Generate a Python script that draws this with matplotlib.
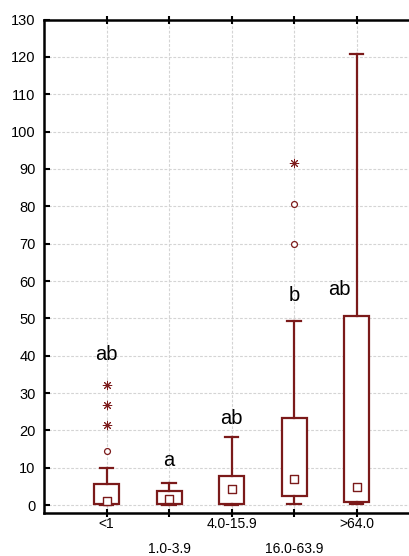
import matplotlib
matplotlib.use("Agg")
import matplotlib.pyplot as plt

plt.rcParams['font.family'] = ['Liberation Sans', 'DejaVu Sans']

categories = ['<1', '1.0-3.9', '4.0-15.9', '16.0-63.9', '>64.0']
q1 = [0.2, 0.2, 0.3, 2.4, 0.8]
q3 = [5.6, 3.8, 7.8, 23.3, 50.7]
medians = [1.0, 1.6, 4.3, 7.0, 4.8]
whisker_lo = [0.0, 0.0, 0.0, 0.3, 0.3]
whisker_hi = [9.9, 5.9, 18.3, 49.3, 120.9]
outliers = [[14.5], [], [], [70.0, 80.5], []]
extremes = [[21.4, 26.8, 32.2], [], [], [91.5], []]
letters = ['ab', 'a', 'ab', 'b', 'ab']
letter_y = [40.2, 12.0, 23.3, 56.2, 57.6]
letter_dx = [0.0, 0.0, 0.0, 0.0, -0.28]
yticks = list(range(0, 131, 10))

dark_red = '#7b1a1a'

fig = plt.figure(figsize=(4.09, 5.56), dpi=100)
ax = fig.add_axes([0.1076, 0.0773, 0.917, 0.8876])

positions = list(range(1, len(categories) + 1))
stats = []
for i in range(len(categories)):
    stats.append(dict(med=medians[i], q1=q1[i], q3=q3[i],
                      whislo=whisker_lo[i], whishi=whisker_hi[i],
                      fliers=[], label=categories[i]))

ax.bxp(stats, positions=positions, widths=0.4, capwidths=0.21,
       showfliers=False, patch_artist=True,
       boxprops=dict(edgecolor=dark_red, facecolor='white', linewidth=1.6),
       whiskerprops=dict(color=dark_red, linewidth=1.6),
       capprops=dict(color=dark_red, linewidth=1.6),
       medianprops=dict(linewidth=0), zorder=3)

ax.scatter(positions, medians, marker='s', s=26, facecolor='white',
           edgecolor=dark_red, linewidth=1.0, zorder=4)

for p, vals in zip(positions, outliers):
    if vals:
        ax.scatter([p] * len(vals), vals, marker='o', s=18, facecolor='white',
                   edgecolor=dark_red, linewidth=0.9, zorder=4)
for p, vals in zip(positions, extremes):
    if vals:
        ax.scatter([p] * len(vals), vals, marker=(8, 2, 0), s=38,
                   color=dark_red, linewidth=0.7, zorder=4)

for p, lab, y, dx in zip(positions, letters, letter_y, letter_dx):
    ax.text(p + dx, y, lab, ha='center', va='center', fontsize=14.5, color='black')

ax.set_xlim(0, 6)
ax.set_ylim(-2.1, 130)
ax.set_yticks(yticks)
ax.set_xticks(positions)
ax.set_xticklabels(categories, fontsize=10)
for lab in ax.get_yticklabels():
    lab.set_fontsize(10.5)

ax.grid(True, color='#d4d4d4', linestyle=(0, (2.5, 1.5)), linewidth=0.8, zorder=0)
ax.set_axisbelow(True)

for side in ('left', 'top', 'bottom'):
    ax.spines[side].set_linewidth(1.8)
    ax.spines[side].set_color('black')
ax.spines['right'].set_visible(False)

ax.tick_params(axis='y', direction='in', length=4, width=1.5, pad=6, left=True)
ax.tick_params(axis='x', direction='inout', length=6, width=1.5, top=True, pad=0)

for i, t in enumerate(ax.xaxis.get_major_ticks()):
    if i % 2 == 1:
        t.set_pad(18)

fig.savefig('out.png', dpi=100)
